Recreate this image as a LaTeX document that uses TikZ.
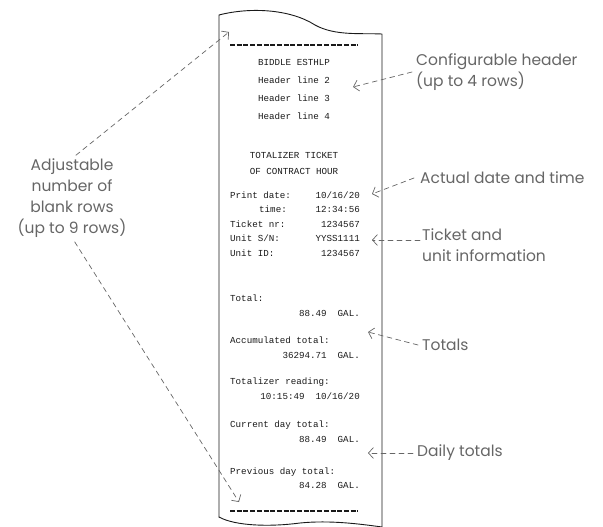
\documentclass[tikz,border=0pt]{standalone}
\usepackage{fontspec}
\setmainfont{Poppins}
\newfontfamily\tapefont{Liberation Mono}
\usetikzlibrary{arrows.meta}
\definecolor{notegray}{HTML}{666666}
\definecolor{inkgray}{HTML}{1A1A1A}
\tikzset{
  note/.style={text=notegray, font=\fontsize{15.5}{21}\selectfont, inner sep=0pt},
  tape/.style={text=inkgray, font=\tapefont\fontsize{9.2}{9.2}\selectfont, inner sep=0pt},
  pointer/.style={draw=notegray, line width=0.7pt, dash pattern=on 5pt off 4pt, -{Straight Barb[length=5pt,width=11pt,line width=0.7pt]}},
  tapedash/.style={draw=inkgray, line width=2.6pt, line cap=butt, dash pattern=on 5pt off 1.7pt},
}
\begin{document}
\begin{tikzpicture}[x=1pt, y=-1pt, line join=round, line cap=round]
	\useasboundingbox (0,0) rectangle (603,527);
	% paper strip
	\draw[inkgray, line width=0.9pt] (219,517) -- (219,15) .. controls (250,7) and (290,9) .. (315,25) .. controls (335,36) and (360,33) .. (382,34) -- (382,527);
	\draw[inkgray, line width=0.9pt] (219,517) .. controls (235,526) and (270,527) .. (300,523) .. controls (330,520) and (360,524) .. (382,527);
	\draw[tapedash] (230,45) -- (358,45);
	\draw[tapedash] (230,511) -- (358,511);
	% header
	\node[tape] (hdr1) at (294,62) {BIDDLE ESTHLP};
	\foreach \n/\y in {2/80,3/98,4/116} \node[tape] (hdr\n) at (294,\y) {Header line \n};
	\node[tape] (title1) at (294,155) {TOTALIZER TICKET};
	\node[tape] (title2) at (294,171) {OF CONTRACT HOUR};
	% date, time, ticket and unit
	\path (230,195) node[tape, anchor=west] (datekey) {Print date:} (360,195) node[tape, anchor=east] (dateval) {10/16/20};
	\path (287,209.5) node[tape, anchor=east] (timekey) {time:} (360,209.5) node[tape, anchor=east] (timeval) {12:34:56};
	\path (230,224) node[tape, anchor=west] (nrkey) {Ticket nr:} (360,224) node[tape, anchor=east] (nrval) {1234567};
	\path (230,238.5) node[tape, anchor=west] (snkey) {Unit S/N:} (360,238.5) node[tape, anchor=east] (snval) {YYSS1111};
	\path (230,253) node[tape, anchor=west] (idkey) {Unit ID:} (360,253) node[tape, anchor=east] (idval) {1234567};
	% totals
	\path (230,298) node[tape, anchor=west] (totkey) {Total:} (360,313) node[tape, anchor=east] (totval) {88.49\ \ GAL.};
	\path (230,340) node[tape, anchor=west] (acckey) {Accumulated total:} (360,355) node[tape, anchor=east] (accval) {36294.71\ \ GAL.};
	\path (230,382) node[tape, anchor=west] (readkey) {Totalizer reading:} (360,396) node[tape, anchor=east] (readval) {10:15:49\ \ 10/16/20};
	\path (230,425) node[tape, anchor=west] (curkey) {Current day total:} (360,439) node[tape, anchor=east] (curval) {88.49\ \ GAL.};
	\path (230,472) node[tape, anchor=west] (prevkey) {Previous day total:} (360,485) node[tape, anchor=east] (prevval) {84.28\ \ GAL.};
	% notes
	\node[note, anchor=west, align=left] (header) at (416,72) {Configurable header\\(up to 4 rows)};
	\node[note, anchor=west] (clock) at (420,178) {Actual date and time};
	\node[note, anchor=west, align=left] (ticket) at (422,245) {Ticket and\\unit information};
	\node[note, anchor=west] (totals) at (422,345) {Totals};
	\node[note, anchor=west] (daily) at (417,453) {Daily totals};
	\node[note, align=center] (blank) at (72,198) {Adjustable\\number of\\blank rows\\(up to 9 rows)};
	\coordinate (headerpt) at (353,87);
	\coordinate (clockpt) at (372,194);
	\coordinate (ticketpt) at (372,240);
	\coordinate (totalspt) at (368,332);
	\coordinate (dailypt) at (368,453);
	\coordinate (toppt) at (229,32);
	\coordinate (bottompt) at (239,502);
	\draw[pointer] ([xshift=-4pt]header.west) -- (headerpt);
	\draw[pointer] ([xshift=-6pt]clock.west) -- (clockpt);
	\draw[pointer] ([xshift=-2pt]ticket.west |- ticketpt) -- (ticketpt);
	\draw[pointer] ([xshift=-4pt]totals.west) -- (totalspt);
	\draw[pointer] ([xshift=-4pt]daily.west) -- (dailypt);
	\draw[pointer, shorten <=5pt] (blank.north) -- (toppt);
	\draw[pointer, shorten <=5pt] (blank.south) -- (bottompt);
\end{tikzpicture}
\end{document}
